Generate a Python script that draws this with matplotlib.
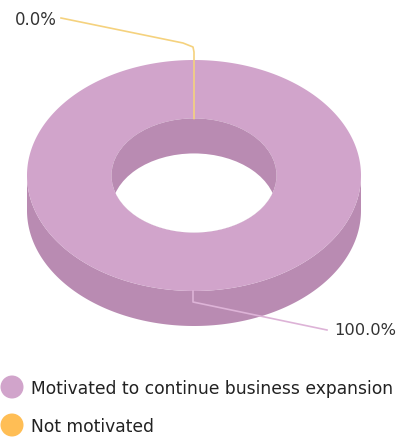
import numpy as np
import matplotlib
matplotlib.use("Agg")
import matplotlib.pyplot as plt
from matplotlib.path import Path
from matplotlib.patches import PathPatch, Ellipse, Circle

# Survey answers (share of respondents, %)
categories = ["Motivated to continue business expansion", "Not motivated"]
values = [100.0, 0.0]
colors = ["#d1a4cb", "#ffbe55"]
side_colors = ["#b98bb2", "#e0a444"]
connector_colors = ["#ddb3d7", "#f5d27e"]

W, H = 398, 439
fig = plt.figure(figsize=(W / 100, H / 100), dpi=100)
ax = fig.add_axes([0, 0, 1, 1])
ax.set_xlim(0, W)
ax.set_ylim(H, 0)
ax.axis("off")

# donut geometry (pixel space, y grows downward)
cx, cy = 194.0, 176.5
a_out, b_out = 167.0, 115.5
inner_ratio = 0.494
a_in, b_in = a_out * inner_ratio, b_out * inner_ratio
depth = 35.0


def ellipse_pts(a, b, t0, t1, dy=0.0, n=200):
    t = np.linspace(t0, t1, n)
    # angle measured clockwise from 12 o'clock
    return np.column_stack([cx + a * np.sin(t), cy + dy - b * np.cos(t)])


total = sum(values)
angles = np.cumsum([0] + [v / total * 2 * np.pi for v in values])

# outer side wall (front half is what shows)
for i, v in enumerate(values):
    t0, t1 = angles[i], angles[i + 1]
    if t1 - t0 <= 0:
        continue
    lo, hi = max(t0, np.pi / 2), min(t1, 3 * np.pi / 2)
    if hi > lo:
        top = ellipse_pts(a_out, b_out, lo, hi)
        bot = ellipse_pts(a_out, b_out, hi, lo, dy=depth)
        poly = np.vstack([top, bot, top[:1]])
        ax.add_patch(PathPatch(Path(poly), facecolor=side_colors[i], edgecolor="none", zorder=1))

# top face of each slice (annular sector)
for i, v in enumerate(values):
    t0, t1 = angles[i], angles[i + 1]
    if t1 - t0 <= 0:
        continue
    outer = ellipse_pts(a_out, b_out, t0, t1, n=400)
    inner = ellipse_pts(a_in, b_in, t1, t0, n=400)
    poly = np.vstack([outer, inner, outer[:1]])
    ax.add_patch(PathPatch(Path(poly), facecolor=colors[i], edgecolor="none", zorder=2))

    # inner wall visible through the hole (back half)
    hole = Ellipse((cx, cy), 2 * a_in, 2 * b_in, facecolor=side_colors[i], edgecolor="none", zorder=3)
    ax.add_patch(hole)
    see_through = Ellipse((cx, cy + depth), 2 * a_in, 2 * b_in, facecolor="white", edgecolor="none", zorder=4)
    ax.add_patch(see_through)
    see_through.set_clip_path(hole)

# data labels with connectors
label_txt = [f"{v:.1f}%" for v in values]
mid = [(angles[i] + angles[i + 1]) / 2 for i in range(len(values))]

# 0.0% slice sits at 12 o'clock: leader runs over the ring to the hole edge
x0 = cx + a_in * np.sin(mid[1])
ax.plot([61, 183, x0 - 1, x0, x0], [19, 44, 48, 53, cy - b_in],
        color=connector_colors[1], lw=1.2, zorder=6, solid_joinstyle="round")
ax.text(57, 20, label_txt[1], ha="right", va="center", fontsize=11.9, color="#333333",
        family="DejaVu Sans", zorder=7)

# 100.0% slice: leader from the bottom rim
ax.plot([cx - 1, cx - 1, 327], [cy + b_out, cy + b_out + 11, 331],
        color=connector_colors[0], lw=1.2, zorder=6)
ax.text(334, 331, label_txt[0], ha="left", va="center", fontsize=11.7, color="#333333",
        family="DejaVu Sans", zorder=7)

# legend
leg_y = [388, 426]
for i, cat in enumerate(categories):
    ax.add_patch(Circle((12, leg_y[i]), 11.5, facecolor=colors[i], edgecolor="none", zorder=5))
    ax.text(31, leg_y[i] + 1, cat, ha="left", va="center", fontsize=12.3, color="#222222",
            family="DejaVu Sans", zorder=5)

fig.savefig("out.png", dpi=100, facecolor="white")
